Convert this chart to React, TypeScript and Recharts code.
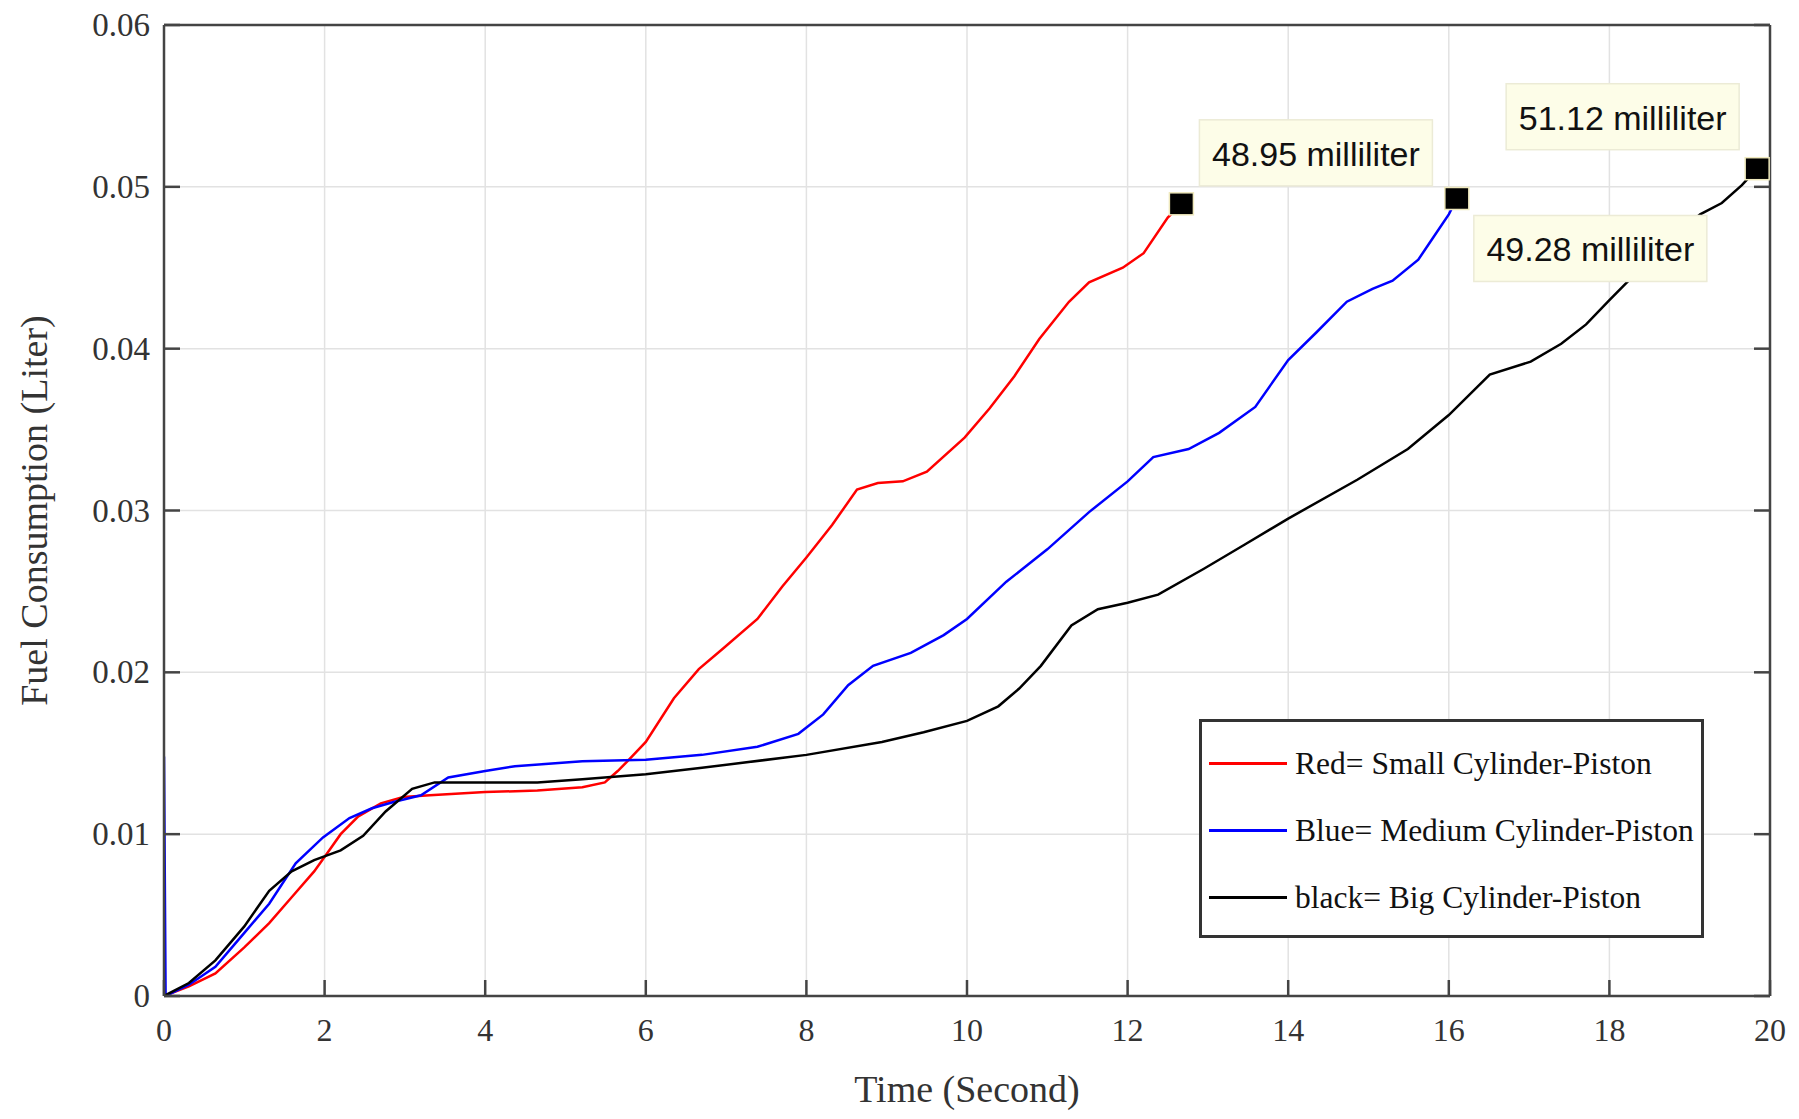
import { ComposedChart, Line, Scatter, XAxis, YAxis, CartesianGrid, Legend, Label } from 'recharts'

// time in seconds, fuel in litres
const redTime = [0, 0.31, 0.64, 1.0, 1.31, 1.59, 1.87, 2.03, 2.2, 2.42, 2.7, 2.98, 3.31, 4.0, 4.65, 5.21, 5.49, 5.65, 5.77, 6.0, 6.35, 6.66, 6.97, 7.39, 7.7, 8.0, 8.32, 8.63, 8.89, 9.2, 9.5, 9.97, 10.28, 10.59, 10.9, 11.27, 11.52, 11.94, 12.2, 12.5, 12.67]
const redFuel = [0, 0.0006, 0.0014, 0.003, 0.0045, 0.0061, 0.0077, 0.0088, 0.01, 0.0111, 0.0119, 0.0123, 0.0124, 0.0126, 0.0127, 0.0129, 0.0132, 0.0139, 0.0145, 0.0157, 0.0184, 0.0202, 0.0215, 0.0233, 0.0253, 0.0271, 0.0291, 0.0313, 0.0317, 0.0318, 0.0324, 0.0345, 0.0363, 0.0383, 0.0406, 0.0429, 0.0441, 0.045, 0.0459, 0.0481, 0.04895]

const blueTime = [0, 0.02, 0.31, 0.64, 1.0, 1.31, 1.64, 1.98, 2.31, 2.59, 2.87, 3.2, 3.54, 4.0, 4.37, 5.21, 6.0, 6.7, 7.39, 7.9, 8.21, 8.52, 8.83, 9.3, 9.71, 10.0, 10.49, 11.0, 11.52, 12.0, 12.32, 12.76, 13.14, 13.59, 14.0, 14.35, 14.73, 15.05, 15.3, 15.62, 15.81, 16.0, 16.1]
const blueFuel = [0.0148, 0, 0.0007, 0.0018, 0.0039, 0.0057, 0.0082, 0.0098, 0.011, 0.0116, 0.012, 0.0124, 0.0135, 0.0139, 0.0142, 0.0145, 0.0146, 0.0149, 0.0154, 0.0162, 0.0174, 0.0192, 0.0204, 0.0212, 0.0223, 0.0233, 0.0256, 0.0276, 0.0299, 0.0318, 0.0333, 0.0338, 0.0348, 0.0364, 0.0393, 0.041, 0.0429, 0.0437, 0.0442, 0.0455, 0.0469, 0.0483, 0.04928]

const blackTime = [0, 0.31, 0.64, 1.0, 1.31, 1.59, 1.87, 2.2, 2.48, 2.76, 3.09, 3.37, 4.0, 4.65, 5.21, 6.0, 6.7, 8.0, 8.94, 9.46, 10.0, 10.39, 10.65, 10.92, 11.3, 11.63, 12.0, 12.38, 12.95, 13.46, 14.0, 14.86, 15.49, 16.0, 16.51, 17.02, 17.4, 17.71, 18.0, 18.2, 18.7, 19.13, 19.4, 19.65, 19.84]
const blackFuel = [0, 0.0008, 0.0022, 0.0043, 0.0065, 0.0077, 0.0084, 0.009, 0.0099, 0.0114, 0.0128, 0.0132, 0.0132, 0.0132, 0.0134, 0.0137, 0.0141, 0.0149, 0.0157, 0.0163, 0.017, 0.0179, 0.019, 0.0204, 0.0229, 0.0239, 0.0243, 0.0248, 0.0264, 0.0279, 0.0295, 0.0319, 0.0338, 0.0359, 0.0384, 0.0392, 0.0403, 0.0415, 0.043, 0.044, 0.0465, 0.0483, 0.049, 0.0501, 0.05112]

// data tips at the end of each run
const endTime = [12.67, 16.1, 19.84]
const endFuel = [0.04895, 0.04928, 0.05112]

const timeTicks = [0, 2, 4, 6, 8, 10, 12, 14, 16, 18, 20]
const fuelTicks = [0, 0.01, 0.02, 0.03, 0.04, 0.05, 0.06]

const legendNames = ['Red= Small Cylinder-Piston', 'Blue= Medium Cylinder-Piston', 'black= Big Cylinder-Piston']
const COLORS = ['#ff0000', '#0000ff', '#000000']

const AXIS = '#444'
const SERIF = '"Liberation Serif", "Times New Roman", serif'
const SANS = '"Liberation Sans", Arial, sans-serif'

// where each data-tip box sits relative to its marker
const TIP_BOX = [
  { dx: 18, dy: -84 },
  { dx: 17, dy: 17 },
  { dx: -251, dy: -85 },
]

const toPoints = (ts: number[], ys: number[]) => ts.map((t, i) => ({ t, y: ys[i] }))

const redData = toPoints(redTime, redFuel)
const blueData = toPoints(blueTime, blueFuel)
const blackData = toPoints(blackTime, blackFuel)
const tipData = endTime.map((t, i) => ({ t, y: endFuel[i], series: i }))

const BottomTick = ({ x, y, payload }: any) => (
  <g>
    <line x1={x} x2={x} y1={y} y2={y - 16} stroke={AXIS} strokeWidth={2.5} />
    <text x={x} y={y + 34} textAnchor="middle" dominantBaseline="central" fontFamily={SERIF} fontSize={32} fill="#333">
      {payload.value}
    </text>
  </g>
)

const TopTick = ({ x, y }: any) => <line x1={x} x2={x} y1={y} y2={y + 16} stroke={AXIS} strokeWidth={2.5} />

const LeftTick = ({ x, y, payload }: any) => (
  <g>
    <line x1={x} x2={x + 16} y1={y} y2={y} stroke={AXIS} strokeWidth={2.5} />
    <text x={x - 14} y={y} textAnchor="end" dominantBaseline="central" fontFamily={SERIF} fontSize={33} fill="#333">
      {String(payload.value)}
    </text>
  </g>
)

const RightTick = ({ x, y }: any) => <line x1={x} x2={x - 16} y1={y} y2={y} stroke={AXIS} strokeWidth={2.5} />

const XTitle = ({ viewBox }: any) => (
  <text
    x={viewBox.x + viewBox.width / 2}
    y={viewBox.y + 93}
    textAnchor="middle"
    dominantBaseline="central"
    fontFamily={SERIF}
    fontSize={38}
    fill="#333"
  >
    Time (Second)
  </text>
)

const YTitle = ({ viewBox }: any) => {
  const cx = viewBox.x - 10
  const cy = viewBox.y + viewBox.height / 2
  return (
    <text
      x={cx}
      y={cy}
      transform={`rotate(-90 ${cx} ${cy})`}
      textAnchor="middle"
      dominantBaseline="central"
      fontFamily={SERIF}
      fontSize={38}
      fill="#333"
    >
      Fuel Consumption (Liter)
    </text>
  )
}

const DataTip = ({ cx, cy, payload }: any) => {
  const box = TIP_BOX[payload.series]
  const w = 233
  const h = 66
  const bx = cx + box.dx
  const by = cy + box.dy
  return (
    <g>
      <rect x={bx} y={by} width={w} height={h} fill="#fdfde8" stroke="#ecebd6" strokeWidth={1.5} />
      <text x={bx + w / 2} y={by + h / 2 + 1} textAnchor="middle" dominantBaseline="central" fontFamily={SANS} fontSize={34} fill="#111">
        {`${(payload.y * 1000).toFixed(2)} milliliter`}
      </text>
      <rect x={cx - 12} y={cy - 11} width={24} height={22} fill="#000" stroke="#efe9bd" strokeWidth={1.5} />
    </g>
  )
}

const LegendBox = () => (
  <div
    style={{
      width: 505,
      height: 219,
      boxSizing: 'border-box',
      border: '3px solid #333',
      background: '#fff',
      paddingTop: 8,
    }}
  >
    {legendNames.map((name, i) => (
      <div key={name} style={{ display: 'flex', alignItems: 'center', height: 67 }}>
        <div style={{ width: 78, height: 3, marginLeft: 7, background: COLORS[i] }} />
        <span style={{ marginLeft: 8, fontFamily: SERIF, fontSize: 31.5, color: '#111', whiteSpace: 'nowrap' }}>{name}</span>
      </div>
    ))}
  </div>
)

export default function App() {
  return (
    <ComposedChart width={1783} height={1103} margin={{ top: 16, right: 20, bottom: 15, left: 36 }}>
      <CartesianGrid stroke="#e2e2e2" strokeWidth={1.5} />
      <XAxis
        dataKey="t"
        type="number"
        domain={[0, 20]}
        ticks={timeTicks}
        interval={0}
        allowDataOverflow
        height={100}
        tickSize={0}
        tickMargin={0}
        tick={<BottomTick />}
        axisLine={{ stroke: AXIS, strokeWidth: 2.5 }}
      >
        <Label content={<XTitle />} />
      </XAxis>
      <XAxis
        xAxisId="top"
        orientation="top"
        type="number"
        domain={[0, 20]}
        ticks={timeTicks}
        interval={0}
        allowDataOverflow
        height={1}
        tickSize={0}
        tickMargin={0}
        tick={<TopTick />}
        axisLine={{ stroke: AXIS, strokeWidth: 2.5 }}
      />
      <YAxis
        dataKey="y"
        type="number"
        domain={[0, 0.06]}
        ticks={fuelTicks}
        interval={0}
        allowDataOverflow
        width={120}
        tickSize={0}
        tickMargin={0}
        tick={<LeftTick />}
        axisLine={{ stroke: AXIS, strokeWidth: 2.5 }}
      >
        <Label content={<YTitle />} />
      </YAxis>
      <YAxis
        yAxisId="right"
        orientation="right"
        type="number"
        domain={[0, 0.06]}
        ticks={fuelTicks}
        interval={0}
        allowDataOverflow
        width={1}
        tickSize={0}
        tickMargin={0}
        tick={<RightTick />}
        axisLine={{ stroke: AXIS, strokeWidth: 2.5 }}
      />
      <Line data={redData} dataKey="y" stroke={COLORS[0]} strokeWidth={2.5} dot={false} type="linear" isAnimationActive={false} />
      <Line data={blueData} dataKey="y" stroke={COLORS[1]} strokeWidth={2.5} dot={false} type="linear" isAnimationActive={false} />
      <Line data={blackData} dataKey="y" stroke={COLORS[2]} strokeWidth={2.5} dot={false} type="linear" isAnimationActive={false} />
      <Scatter data={tipData} dataKey="y" shape={<DataTip />} isAnimationActive={false} />
      <Legend
        layout="horizontal"
        verticalAlign="middle"
        align="center"
        content={<LegendBox />}
        wrapperStyle={{ left: 1191, top: 711, width: 505, height: 219 }}
      />
    </ComposedChart>
  )
}
